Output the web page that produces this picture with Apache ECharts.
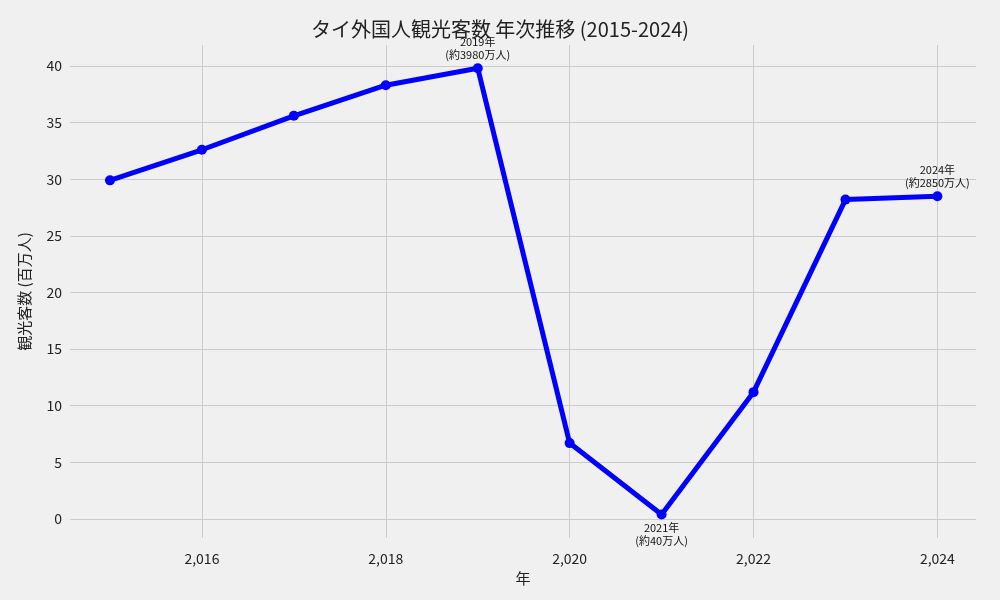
<!DOCTYPE html>
<html><head><meta charset="utf-8">
<script src="https://cdn.jsdelivr.net/npm/echarts@6/dist/echarts.min.js"></script>
<style>html,body{margin:0;background:#f0f0f0}#c{width:1000px;height:600px}</style>
</head><body><div id="c"></div>
<script>
const years=[2015,2016,2017,2018,2019,2020,2021,2022,2023,2024];
const visitors=[29.9,32.6,35.6,38.3,39.8,6.7,0.4,11.2,28.2,28.5];
const notes={2019:['2019年','(約3980万人)','top'],2021:['2021年','(約40万人)','bottom'],2024:['2024年','(約2850万人)','top']};
const xTicks=[2016,2018,2020,2022,2024];
const yTicks=[0,5,10,15,20,25,30,35,40];
const font='"Noto Sans CJK JP", "Noto Sans", sans-serif';
const data=years.map((y,i)=>{
  const d={value:[y,visitors[i]]};
  if(notes[y]) d.label={show:true,position:notes[y][2],distance:notes[y][2]==='top'?2:2,formatter:notes[y][0]+'\n'+notes[y][1],fontSize:11,lineHeight:13,color:'#111',fontFamily:font};
  return d;
});
const chart=echarts.init(document.getElementById('c'));
chart.setOption({
  backgroundColor:'#f0f0f0',
  title:{text:'タイ外国人観光客数 年次推移 (2015-2024)',left:'center',top:14,textStyle:{fontSize:20,fontWeight:'normal',color:'#222',fontFamily:font}},
  grid:{left:70,right:24,top:45,bottom:62},
  xAxis:{type:'value',min:2014.565,max:2024.42,name:'年',nameLocation:'middle',nameGap:30,
    nameTextStyle:{fontSize:15,color:'#222',fontFamily:font},
    axisLine:{show:false},axisTick:{show:false,customValues:xTicks},
    axisLabel:{customValues:xTicks,fontSize:14,color:'#222',margin:14,fontFamily:font},
    splitLine:{show:true,lineStyle:{color:'#cbcbcb',width:1}}},
  yAxis:{type:'value',min:-1.68,max:41.85,name:'観光客数 (百万人)',nameLocation:'middle',nameGap:38,
    nameTextStyle:{fontSize:15,color:'#222',fontFamily:font},
    axisLine:{show:false},axisTick:{show:false,customValues:yTicks},
    axisLabel:{customValues:yTicks,fontSize:14,color:'#222',fontFamily:font},
    splitLine:{show:true,lineStyle:{color:'#cbcbcb',width:1}}},
  series:[{type:'line',data:data,symbol:'circle',symbolSize:10,
    lineStyle:{color:'#0000ff',width:5},itemStyle:{color:'#0000ff'},animation:false}]
});
</script></body></html>
